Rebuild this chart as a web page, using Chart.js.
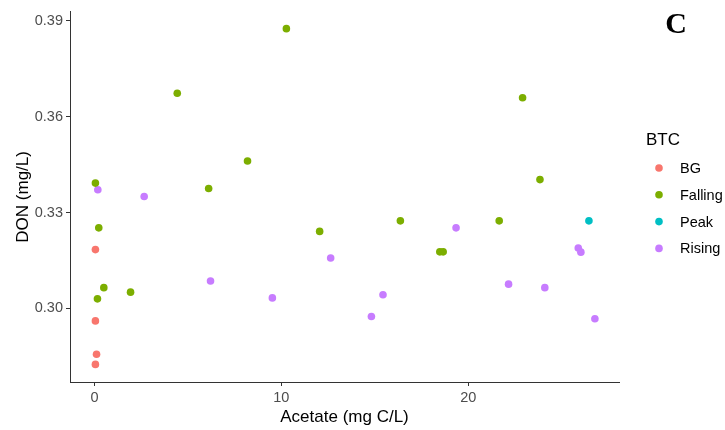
<!DOCTYPE html>
<html>
<head>
<meta charset="utf-8">
<script src="https://cdn.jsdelivr.net/npm/chart.js@4"></script>
<style>
  html, body { margin: 0; padding: 0; background: #fff; }
  #wrap { width: 725px; height: 430px; }
</style>
</head>
<body>
<div id="wrap"><canvas id="don-acetate" width="725" height="430"></canvas></div>
<script>
// BTC groups: acetate (x) vs DON (y)
const groups = ['BG', 'Falling', 'Peak', 'Rising'];
const colors = ['#F8766D', '#7CAE00', '#00BFC4', '#C77CFF'];

const bgX = [0.05, 0.05, 0.11, 0.05];
const bgY = [0.3184, 0.2961, 0.2857, 0.2825];

const fallingX = [10.27, 4.43, 8.19, 0.05, 6.11, 0.23, 0.50, 1.93, 0.16, 12.05, 16.37, 18.48, 18.66, 21.66, 22.91, 23.84];
const fallingY = [0.3875, 0.3673, 0.3461, 0.3392, 0.3375, 0.3252, 0.3065, 0.3051, 0.3030, 0.3241, 0.3274, 0.3177, 0.3177, 0.3274, 0.3659, 0.3403];

const peakX = [26.46];
const peakY = [0.3274];

const risingX = [0.18, 2.66, 6.21, 9.52, 12.64, 15.44, 14.82, 19.35, 22.16, 24.10, 25.89, 26.03, 26.78];
const risingY = [0.3371, 0.3350, 0.3086, 0.3033, 0.3158, 0.3043, 0.2975, 0.3252, 0.3076, 0.3065, 0.3189, 0.3176, 0.2968];

const xTicks = [0, 10, 20];
const yTicks = [0.30, 0.33, 0.36, 0.39];

function pts(xs, ys) {
  return xs.map((x, i) => ({x: x, y: ys[i]}));
}

const seriesX = [bgX, fallingX, peakX, risingX];
const seriesY = [bgY, fallingY, peakY, risingY];

const datasets = groups.map((g, i) => ({
  label: g,
  data: pts(seriesX[i], seriesY[i]),
  backgroundColor: colors[i],
  borderColor: colors[i],
  borderWidth: 0,
  pointRadius: 3.8,
  pointHoverRadius: 3.8
}));

const sans = '"Liberation Sans", Arial, sans-serif';

// titles, legend and panel letter
const extras = {
  id: 'extras',
  afterDraw(chart) {
    const c = chart.ctx;
    const a = chart.chartArea;
    c.save();
    c.fillStyle = '#000';
    c.font = '17px ' + sans;
    c.textAlign = 'center';
    c.textBaseline = 'middle';
    c.fillText('Acetate (mg C/L)', (a.left + a.right) / 2, 417);
    c.save();
    c.translate(23, (a.top + a.bottom) / 2);
    c.rotate(-Math.PI / 2);
    c.fillText('DON (mg/L)', 0, 0);
    c.restore();

    // legend
    c.textAlign = 'left';
    c.fillText('BTC', 646, 140);
    c.font = '14.5px ' + sans;
    groups.forEach((g, i) => {
      const y = 168 + i * 26.8;
      c.beginPath();
      c.arc(659, y, 3.8, 0, Math.PI * 2);
      c.fillStyle = colors[i];
      c.fill();
      c.fillStyle = '#000';
      c.fillText(g, 680, y + 1);
    });

    c.font = 'bold 30px "Liberation Serif", "Times New Roman", serif';
    c.textAlign = 'center';
    c.fillText('C', 676, 25);
    c.restore();
  }
};

const ctx = document.getElementById('don-acetate');
const chart = new Chart(ctx, {
  type: 'scatter',
  data: { datasets: datasets },
  options: {
    responsive: false,
    animation: false,
    layout: { padding: { left: 0, top: 7, right: 106, bottom: 0 } },
    plugins: { legend: { display: false }, tooltip: { enabled: false } },
    scales: {
      x: {
        type: 'linear',
        min: -1.31,
        max: 28.07,
        afterBuildTicks: s => { s.ticks = xTicks.map(v => ({value: v})); },
        afterFit: s => { s.height = 48; },
        grid: { drawOnChartArea: false, drawTicks: true, tickLength: 4, color: '#333', lineWidth: 1 },
        border: { display: true, color: '#333', width: 1 },
        ticks: { color: '#4D4D4D', padding: 3, font: { size: 14.5, family: sans } }
      },
      y: {
        type: 'linear',
        min: 0.277,
        max: 0.3928,
        afterBuildTicks: s => { s.ticks = yTicks.map(v => ({value: v})); },
        afterFit: s => { s.width = 70; },
        grid: { drawOnChartArea: false, drawTicks: true, tickLength: 4, color: '#333', lineWidth: 1 },
        border: { display: true, color: '#333', width: 1 },
        ticks: {
          color: '#4D4D4D', padding: 3,
          font: { size: 14.5, family: sans },
          callback: v => v.toFixed(2)
        }
      }
    }
  },
  plugins: [extras]
});
</script>
</body>
</html>
